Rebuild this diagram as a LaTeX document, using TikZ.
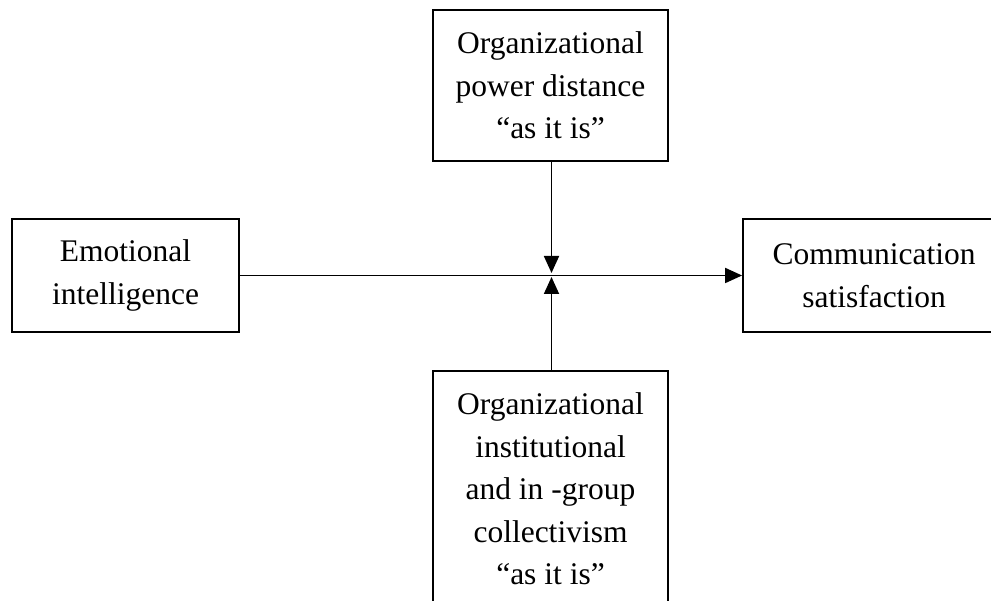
\documentclass[tikz,border=0pt]{standalone}
\usepackage{fontspec}
\setmainfont{Liberation Serif}
\usetikzlibrary{arrows.meta}
\begin{document}
\begin{tikzpicture}[x=1pt,y=1pt,
  box/.style={draw,line width=1.8pt,inner sep=0pt,align=center,
    font=\fontsize{31.5}{42.5}\selectfont},
  conn/.style={line width=1.8pt},
  arr/.style={conn,-{Triangle[length=17pt,width=15pt]}}]
\useasboundingbox (0,0) rectangle (991,601);
\clip (0,0) rectangle (991,601);
\node[box,minimum width=235pt,minimum height=151pt] (top) at (550.5,515.5)
  {Organizational\\power distance\\“as it is”};
\node[box,minimum width=227pt,minimum height=113pt] (ei) at (125.5,325.5)
  {Emotional\\intelligence};
\node[box,minimum width=262pt,minimum height=113pt] (cs) at (874,325.5)
  {Communication\\satisfaction};
\node[box,minimum width=235pt,minimum height=236pt] (bot) at (550.5,112)
  {Organizational\\institutional\\and in -group\\collectivism\\“as it is”};
\coordinate (mtop) at (551.5,328);
\coordinate (mbot) at (551.5,324);
\draw[arr] (ei.east) -- (cs.west);
\draw[arr] (top.south -| mtop) -- (mtop);
\draw[arr] (bot.north -| mbot) -- (mbot);
\end{tikzpicture}
\end{document}
